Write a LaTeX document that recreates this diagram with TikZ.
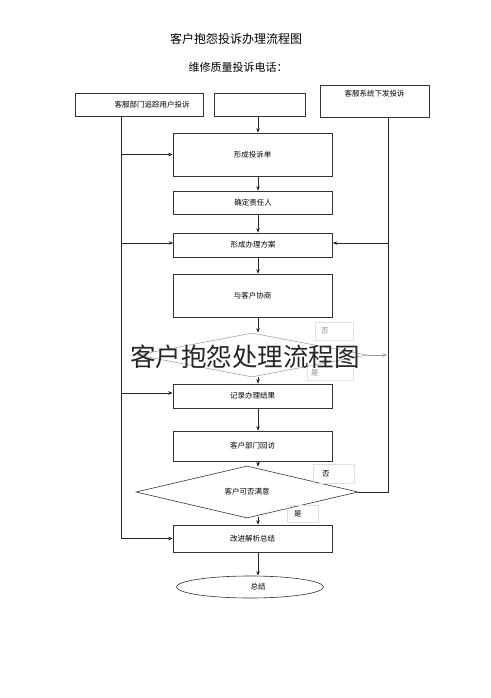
\documentclass[tikz,border=0pt]{standalone}
\usepackage{fontspec}
\setmainfont{Noto Sans CJK SC}
\usepackage{tikz}
\usetikzlibrary{shapes.geometric, arrows.meta, positioning, calc}
\tikzset{
    procbox/.style={
        rectangle,
        draw=black!80,
        line width=0.6pt,
        minimum width=159pt,
        inner sep=0pt,
        fill=white,
        font=\fontsize{7.5}{9}\selectfont
    },
    topbox/.style={
        rectangle,
        draw=black!80,
        line width=0.6pt,
        minimum height=23pt,
        inner sep=0pt,
        font=\fontsize{7.5}{9}\selectfont
    },
    decision/.style={
        diamond,
        draw=black!80,
        line width=0.6pt,
        inner sep=0pt,
        font=\fontsize{7.5}{9}\selectfont
    },
    endpoint/.style={
        ellipse,
        draw=black!80,
        line width=0.6pt,
        inner sep=0pt,
        font=\fontsize{7.5}{9}\selectfont
    },
    answer/.style={
        rectangle,
        draw=black!12,
        inner ysep=0pt,
        align=left,
        font=\fontsize{7.5}{9}\selectfont
    },
    wire/.style={
        draw=black!85,
        line width=0.6pt,
        -{Stealth[length=4.5pt,width=3.5pt]}
    },
    rail/.style={
        draw=black!85,
        line width=0.6pt
    }
}

\begin{document}
\begin{tikzpicture}[x=1pt, y=-1pt]
\useasboundingbox (0,0) rectangle (490,698);

% Titles
\node[font=\fontsize{12}{14}\selectfont] (title) at (236,39) {客户抱怨投诉办理流程图};
\node[font=\fontsize{11}{13}\selectfont] (phone) at (238,67) {维修质量投诉电话：};

% Sources of complaints
\node[topbox, minimum width=128pt] (src_left) at (139,104.5) {\hspace*{26pt}客服部门追踪用户投诉};
\node[topbox, minimum width=91pt] (src_mid) at (259.5,104.5) {};
\node[topbox, minimum width=109pt, minimum height=32pt] (src_right) at (374.5,101) {\raisebox{16pt}{客服系统下发投诉}};

% Side rails and main column
\coordinate (lrail) at (121,0);
\coordinate (rrail) at (388,0);
\coordinate (spine) at (258,0);

% Main process
\node[procbox, minimum height=43pt] (form) at (252.5,154.5) {形成投诉单};
\node[procbox, minimum height=23pt] (assign) at (253,202.5) {确定责任人};
\node[procbox, minimum height=24pt] (plan) at (253,245) {形成办理方案};
\node[procbox, minimum height=43pt] (consult) at (252.5,295.5) {与客户协商};
\node[decision, draw=black!35, minimum width=230pt, minimum height=44pt] (check) at (252,355) {};
\node[procbox, minimum height=24pt] (record) at (252.5,396) {记录办理结果};
\node[procbox, minimum height=30pt] (visit) at (252.5,446) {客户部门回访};
\node[decision, minimum width=222pt, minimum height=30pt] (satisfied) at (247,492) {客户可否满意};
\node[procbox, minimum height=27pt] (improve) at (252.5,538.5) {改进解析总结};
\node[endpoint, minimum width=147pt, minimum height=22pt] (done) at (250,587) {\hspace*{16pt}总结};

% Answer labels
\node[answer, minimum height=18pt, inner xsep=6pt, text width=26pt, text=black!45] (no_a) at (334,331) {否};
\node[answer, minimum height=15pt, inner xsep=4pt, text width=38pt, text=black!45] (yes_a) at (330,372.5) {是};
\node[answer, minimum height=19pt, inner xsep=9pt, text width=23pt] (no_b) at (333.5,473.5) {否};
\node[answer, minimum height=17pt, inner xsep=7pt, text width=17pt] (yes_b) at (302.5,513.5) {是};

% Main flow
\draw[wire] (src_mid.south -| spine) -- (form.north -| spine);
\draw[wire] (form.south -| spine) -- (assign.north -| spine);
\draw[wire] (assign.south -| spine) -- (plan.north -| spine);
\draw[wire] (plan.south -| spine) -- (consult.north -| spine);
\draw[wire] (consult.south -| spine) -- (check.north -| spine);
\draw[wire] (check.south -| spine) -- (record.north -| spine);
\draw[wire] (record.south -| spine) -- (visit.north -| spine);
\draw[wire] (visit.south -| spine) -- ([yshift=-1pt]satisfied.north -| spine);
\draw[wire] ([yshift=1pt]satisfied.south -| spine) -- (improve.north -| spine);
\draw[wire] (improve.south -| spine) -- (done.north -| spine);

% Left rail
\draw[wire] (src_left.south -| lrail) |- (improve.west);
\draw[wire] (form.west -| lrail) -- (form.west);
\draw[wire] ([yshift=2pt]plan.west -| lrail) -- ([yshift=2pt]plan.west);
\draw[wire] ([yshift=3pt]record.west -| lrail) -- ([yshift=3pt]record.west);

% Right rail
\draw[rail] (satisfied.east) -| (src_right.south -| rrail);
\draw[wire] ([yshift=2pt]plan.east -| rrail) -- ([yshift=2pt]plan.east);
\draw[wire, draw=black!40] (check.east) -- ([xshift=-1pt]check.east -| rrail);

% Watermark
\node[font=\fontsize{25.5}{27}\selectfont, text=black!85] (watermark) at (245,357) {客户抱怨处理流程图};

\end{tikzpicture}
\end{document}
